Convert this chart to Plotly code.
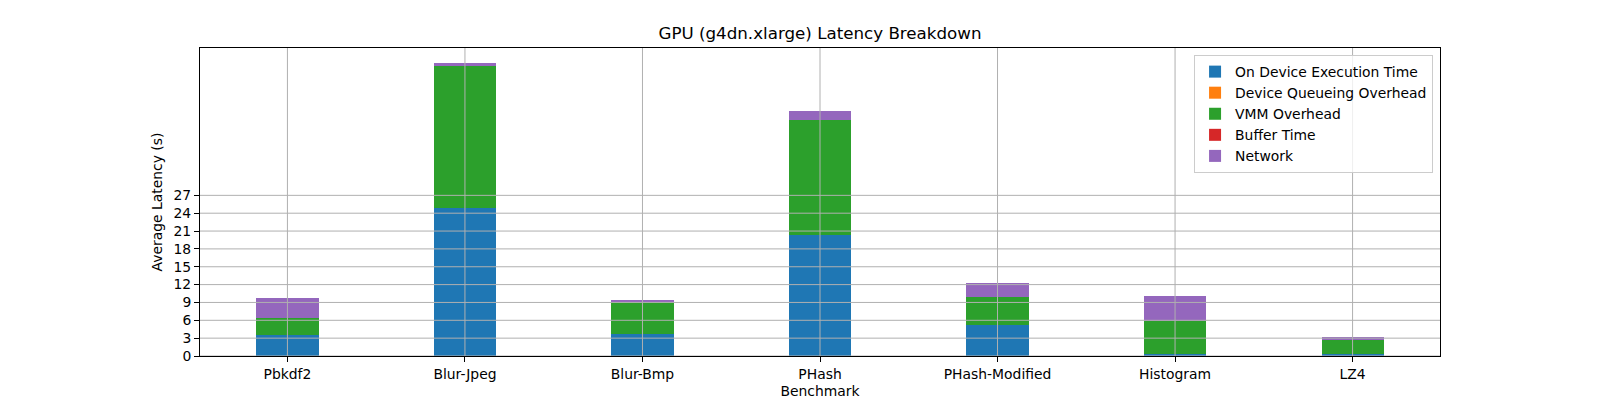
import plotly.graph_objects as go

benchmarks = ["Pbkdf2", "Blur-Jpeg", "Blur-Bmp", "PHash", "PHash-Modified", "Histogram", "LZ4"]
on_device = [3.5, 24.9, 3.65, 20.4, 5.2, 0.3, 0.3]
queueing = [0.0, 0.0, 0.0, 0.0, 0.0, 0.0, 0.0]
vmm = [2.9, 23.9, 5.35, 19.2, 4.7, 5.66, 2.34]
buffer_time = [0.0, 0.0, 0.0, 0.0, 0.0, 0.0, 0.0]
network = [3.3, 0.5, 0.4, 1.6, 2.3, 4.1, 0.5]

series_names = ["On Device Execution Time", "Device Queueing Overhead", "VMM Overhead", "Buffer Time", "Network"]
series_values = [on_device, queueing, vmm, buffer_time, network]
colors = ["#1f77b4", "#ff7f0e", "#2ca02c", "#d62728", "#9467bd"]
yticks = [0, 3, 6, 9, 12, 15, 18, 21, 24, 27]

font = "DejaVu Sans"
fs = 13.9
x = list(range(len(benchmarks)))
bar_width = 0.35

fig = go.Figure()
for name, vals, col in zip(series_names, series_values, colors):
    fig.add_trace(go.Bar(x=x, y=vals, name=name, width=bar_width,
                         marker=dict(color=col, line=dict(width=0))))

totals = [sum(v) for v in zip(*series_values)]
ymax = max(totals) * 1.05
xmargin = (len(x) - 1 + bar_width) * 0.05
xrange = [-bar_width / 2 - xmargin, len(x) - 1 + bar_width / 2 + xmargin]

shapes = []
for t in yticks:
    shapes.append(dict(type="line", xref="paper", x0=0, x1=1, yref="y", y0=t, y1=t,
                       line=dict(color="#b0b0b0", width=1), layer="above"))
for xi in x:
    shapes.append(dict(type="line", xref="x", x0=xi, x1=xi, yref="paper", y0=0, y1=1,
                       line=dict(color="#b0b0b0", width=1), layer="above"))

fig.update_layout(
    barmode="stack",
    width=1600, height=400,
    margin=dict(l=192, r=168, t=40, b=52, autoexpand=False),
    paper_bgcolor="white", plot_bgcolor="white",
    font=dict(family=font, size=fs, color="black"),
    title=dict(text="GPU (g4dn.xlarge) Latency Breakdown", x=(192 + 1240 / 2) / 1600, xanchor="center",
               y=1 - 25 / 400, yanchor="middle", yref="container",
               font=dict(size=16.7, family=font, color="black")),
    legend=dict(x=0.9944, xanchor="right", y=0.977, yanchor="top",
                bgcolor="rgba(255,255,255,0.8)", bordercolor="#cccccc", borderwidth=1,
                traceorder="normal", font=dict(size=fs, family=font), tracegroupgap=0),
    shapes=shapes,
    bargap=0,
)
fig.update_xaxes(range=xrange, tickmode="array", tickvals=x, ticktext=benchmarks,
                 showgrid=False, zeroline=False, showline=True, mirror=True,
                 linecolor="black", linewidth=1, ticks="outside", ticklen=5,
                 tickcolor="black", tickfont=dict(size=fs),
                 title=dict(text="Benchmark", standoff=5, font=dict(size=fs)))
fig.update_yaxes(range=[0, ymax], tickmode="array", tickvals=yticks,
                 showgrid=False, zeroline=False, showline=True, mirror=True,
                 linecolor="black", linewidth=1, ticks="outside", ticklen=5,
                 tickcolor="black", tickfont=dict(size=fs),
                 title=dict(text="Average Latency (s)", standoff=7, font=dict(size=fs)))

fig.write_html("out.html")
